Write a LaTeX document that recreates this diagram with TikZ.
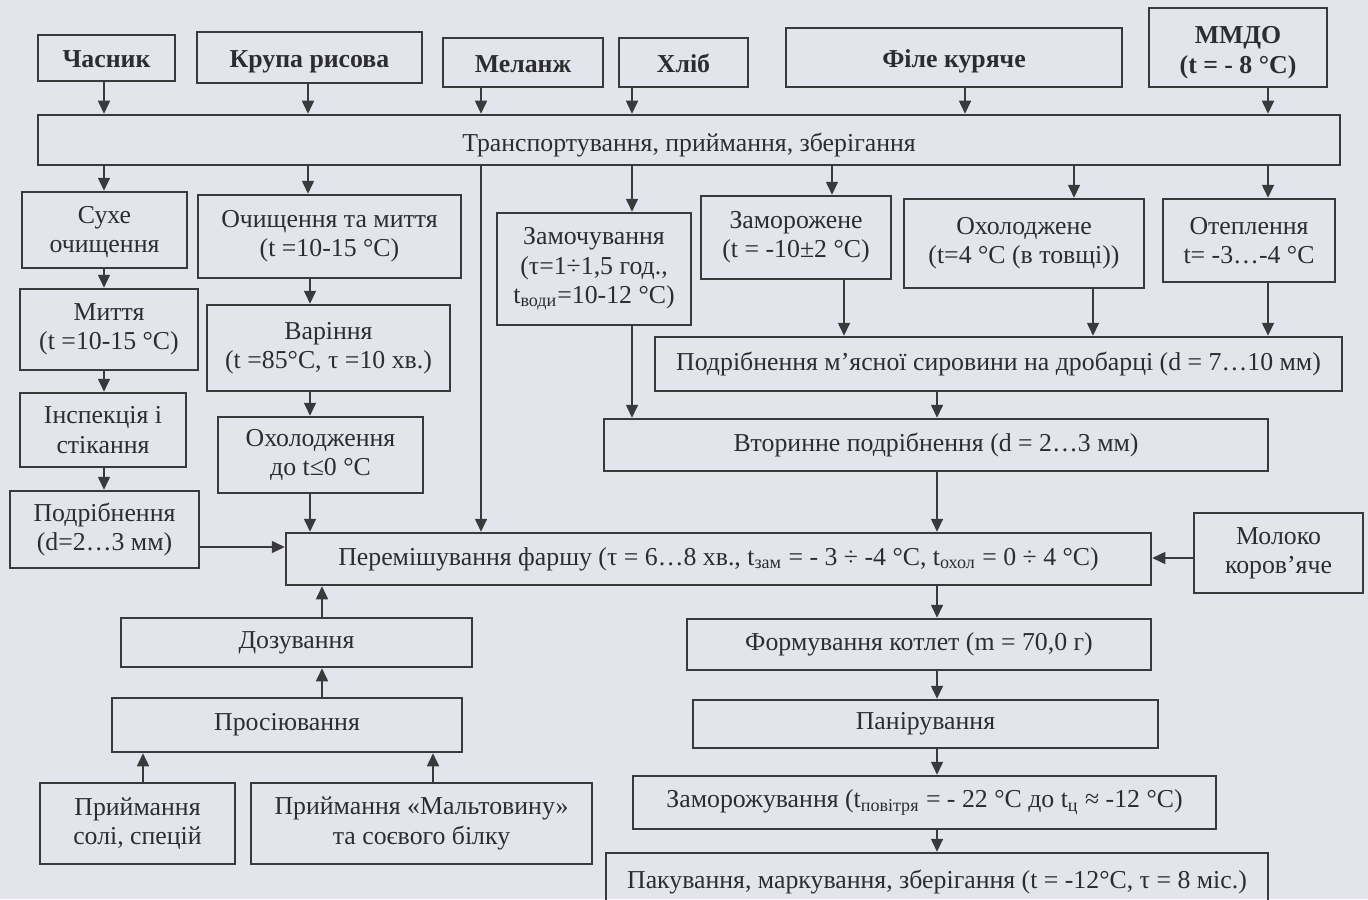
\documentclass[tikz,border=0pt]{standalone}
\usepackage{fontspec}
\setmainfont{Liberation Serif}
\usetikzlibrary{arrows.meta}
\definecolor{bgc}{RGB}{227,229,237}
\definecolor{lnc}{RGB}{58,58,60}
\definecolor{txc}{RGB}{45,45,48}
\newcommand\mybx[7][]{\node[box,#1,minimum width={(#4-#2)*0.5pt},minimum height={(#5-#3)*0.5pt}] (#6) at ({(#2+#4)/2},{(#3+#5)/2}) {#7};}
\begin{document}
\begin{tikzpicture}[x=0.5pt,y=-0.5pt,
  box/.style={draw=lnc,line width=1.25pt,align=center,inner sep=0pt,text=txc,
    font=\fontsize{12.9}{14.6}\selectfont},
  bold/.style={font=\fontsize{12.9}{15}\selectfont\bfseries},
  boldlow/.style={bold,text height=10.8pt,text depth=1pt},
  lowtext/.style={text height=12pt,text depth=0.5pt},
  arr/.style={draw=lnc,line width=0.8pt,-{Triangle[length=6.5pt,width=6pt]}}]
\fill[bgc] (0,0) rectangle (1368,899);
\useasboundingbox (0,0) rectangle (1368,899);
% top row
\mybx[boldlow]{38}{35}{175}{81}{chasnyk}{Часник}
\mybx[boldlow]{197}{32}{422}{83}{krupa}{Крупа рисова}
\mybx[boldlow]{443}{38}{603}{87}{melanzh}{Меланж}
\mybx[boldlow]{619}{38}{748}{87}{khlib}{Хліб}
\mybx[boldlow]{786}{28}{1122}{87}{file}{Філе куряче}
\mybx[bold]{1149}{8}{1327}{87}{mmdo}{\rule{0pt}{14pt}ММДО\\(t = - 8 °C)}
\mybx[lowtext]{38}{115}{1340}{165}{transp}{Транспортування, приймання, зберігання}
% second row
\mybx{22}{192}{187}{268}{sukhe}{\rule{0pt}{11pt}Сухе\\очищення}
\mybx{198}{195}{461}{278}{ochysch}{Очищення та миття\\(t =10-15 °C)}
\mybx{497}{213}{691}{325}{zamoch}{Замочування\\(τ=1÷1,5 год.,\\t\textsubscript{води}=10-12 °C)}
\mybx{701}{196}{891}{279}{zamorozh}{Заморожене\\(t = -10±2 °C)}
\mybx{904}{199}{1144}{288}{okhol}{Охолоджене\\(t=4 °C (в товщі))}
\mybx{1163}{199}{1335}{282}{otepl}{Отеплення\\t= -3…-4 °C}
% left column
\mybx{20}{289}{198}{370}{myttya}{Миття\\(t =10-15 °C)}
\mybx{20}{393}{186}{467}{inspek}{Інспекція і\\стікання}
\mybx{10}{491}{199}{568}{podr}{Подрібнення\\(d=2…3 мм)}
\mybx{207}{305}{450}{391}{varin}{Варіння\\(t =85°C, τ =10 хв.)}
\mybx{218}{417}{423}{493}{okhold}{Охолодження\\до t≤0 °C}
% meat
\mybx{655}{337}{1342}{391}{podrm}{Подрібнення м’ясної сировини на дробарці (d = 7…10 мм)}
\mybx{604}{419}{1268}{471}{vtor}{Вторинне подрібнення (d = 2…3 мм)}
\mybx{286}{533}{1151}{585}{perem}{Перемішування фаршу (τ = 6…8 хв., t\textsubscript{зам} = - 3 ÷ -4 °C, t\textsubscript{охол} = 0 ÷ 4 °C)}
\mybx{1194}{513}{1363}{593}{moloko}{Молоко\\коров’яче}
% bottom left
\mybx{121}{618}{472}{667}{dozuv}{Дозування}
\mybx{112}{698}{462}{752}{prosiy}{Просіювання}
\mybx{40}{783}{235}{864}{soli}{Приймання\\солі, спецій}
\mybx{251}{783}{592}{864}{malt}{Приймання «Мальтовину»\\та соєвого білку}
% bottom right
\mybx{687}{619}{1151}{670}{formuv}{Формування котлет (m = 70,0 г)}
\mybx{693}{700}{1158}{748}{panir}{Панірування}
\mybx{633}{776}{1216}{829}{zamorozhuv}{Заморожування (t\textsubscript{повітря} = - 22 °C до t\textsubscript{ц} ≈ -12 °C)}
\mybx{606}{853}{1268}{912}{pakuv}{Пакування, маркування, зберігання (t = -12°C, τ = 8 міс.)}
% x positions of connectors
\coordinate (v104) at (104,0);
\coordinate (v308) at (308,0);
\coordinate (v481) at (481,0);
\coordinate (v632) at (632,0);
\coordinate (v965) at (965,0);
\coordinate (v1268) at (1268,0);
\coordinate (v832) at (832,0);
\coordinate (v844) at (844,0);
\coordinate (v1074) at (1074,0);
\coordinate (v1093) at (1093,0);
\coordinate (v310) at (310,0);
\coordinate (v937) at (937,0);
\coordinate (v322) at (322,0);
\coordinate (v143) at (143,0);
\coordinate (v433) at (433,0);
\coordinate (h547) at (0,547);
\coordinate (h558) at (0,558);
% top to transport
\draw[arr] (chasnyk.south -| v104) -- (transp.north -| v104);
\draw[arr] (krupa.south -| v308) -- (transp.north -| v308);
\draw[arr] (melanzh.south -| v481) -- (transp.north -| v481);
\draw[arr] (khlib.south -| v632) -- (transp.north -| v632);
\draw[arr] (file.south -| v965) -- (transp.north -| v965);
\draw[arr] (mmdo.south -| v1268) -- (transp.north -| v1268);
% transport to second row
\draw[arr] (transp.south -| v104) -- (sukhe.north -| v104);
\draw[arr] (transp.south -| v308) -- (ochysch.north -| v308);
\draw[arr] (transp.south -| v481) -- (perem.north -| v481);
\draw[arr] (transp.south -| v632) -- (zamoch.north -| v632);
\draw[arr] (transp.south -| v832) -- (zamorozh.north -| v832);
\draw[arr] (transp.south -| v1074) -- (okhol.north -| v1074);
\draw[arr] (transp.south -| v1268) -- (otepl.north -| v1268);
% garlic
\draw[arr] (sukhe.south -| v104) -- (myttya.north -| v104);
\draw[arr] (myttya.south -| v104) -- (inspek.north -| v104);
\draw[arr] (inspek.south -| v104) -- (podr.north -| v104);
\draw[arr] (podr.east |- h547) -- (perem.west |- h547);
% rice
\draw[arr] (ochysch.south -| v310) -- (varin.north -| v310);
\draw[arr] (varin.south -| v310) -- (okhold.north -| v310);
\draw[arr] (okhold.south -| v310) -- (perem.north -| v310);
% bread, meat
\draw[arr] (zamoch.south -| v632) -- (vtor.north -| v632);
\draw[arr] (zamorozh.south -| v844) -- (podrm.north -| v844);
\draw[arr] (okhol.south -| v1093) -- (podrm.north -| v1093);
\draw[arr] (otepl.south -| v1268) -- (podrm.north -| v1268);
\draw[arr] (podrm.south -| v937) -- (vtor.north -| v937);
\draw[arr] (vtor.south -| v937) -- (perem.north -| v937);
\draw[arr] (moloko.west |- h558) -- (perem.east |- h558);
% after mixing
\draw[arr] (perem.south -| v937) -- (formuv.north -| v937);
\draw[arr] (formuv.south -| v937) -- (panir.north -| v937);
\draw[arr] (panir.south -| v937) -- (zamorozhuv.north -| v937);
\draw[arr] (zamorozhuv.south -| v937) -- (pakuv.north -| v937);
% additives
\draw[arr] (dozuv.north -| v322) -- (perem.south -| v322);
\draw[arr] (prosiy.north -| v322) -- (dozuv.south -| v322);
\draw[arr] (soli.north -| v143) -- (prosiy.south -| v143);
\draw[arr] (malt.north -| v433) -- (prosiy.south -| v433);
\end{tikzpicture}
\end{document}
